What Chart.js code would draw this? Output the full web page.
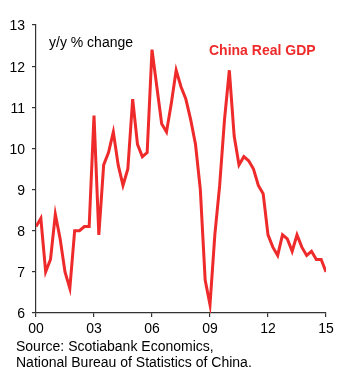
<!DOCTYPE html>
<html>
<head>
<meta charset="utf-8">
<script src="https://cdn.jsdelivr.net/npm/chart.js@4.4.1/dist/chart.umd.min.js"></script>
<style>
  html, body { margin: 0; padding: 0; background: #fff; }
  #wrap { position: relative; width: 356px; height: 379px; }
  canvas { display: block; }
</style>
</head>
<body>
<div id="wrap"><canvas id="c" width="356" height="379"></canvas></div>
<script>
// Quarterly China real GDP, y/y % change, 2000Q1 .. 2015Q1
const quarterIndex = [];
const gdpGrowth = [
  8.1, 8.3, 7.0, 7.3,   // 2000
  8.4, 7.8, 7.0, 6.6,   // 2001
  8.0, 8.0, 8.1, 8.1,   // 2002
  10.8, 7.9, 9.6, 9.9,  // 2003
  10.4, 9.6, 9.1, 9.5,  // 2004
  11.2, 10.1, 9.8, 9.9, // 2005
  12.4, 11.5, 10.6, 10.4, // 2006
  11.1, 11.9, 11.5, 11.2, // 2007
  10.7, 10.1, 9.0, 6.8, // 2008
  6.2, 7.9, 9.1, 10.7,  // 2009
  11.9, 10.3, 9.6, 9.8, // 2010
  9.7, 9.5, 9.1, 8.9,   // 2011
  7.9, 7.6, 7.4, 7.9,   // 2012
  7.8, 7.5, 7.9, 7.6,   // 2013
  7.4, 7.5, 7.3, 7.3,   // 2014
  7.0                   // 2015
];
for (let i = 0; i < gdpGrowth.length; i++) quarterIndex.push(i);
const xTickLabels = ['00', '03', '06', '09', '12', '15'];
const yTickMin = 6, yTickMax = 13;
const seriesLabel = 'China Real GDP';
const unitLabel = 'y/y % change';
const sourceLines = ['Source: Scotiabank Economics,', 'National Bureau of Statistics of China.'];

const FONT = '"Liberation Sans", Arial, sans-serif';
const RED = '#ee2a2a';

const textPlugin = {
  id: 'texts',
  afterDraw(chart) {
    const ctx = chart.ctx;
    ctx.save();
    ctx.textBaseline = 'alphabetic';
    ctx.textAlign = 'left';
    ctx.fillStyle = '#000';
    ctx.font = '14px ' + FONT;
    ctx.fillText(unitLabel, 49, 47);
    ctx.fillStyle = RED;
    ctx.font = 'bold 14px ' + FONT;
    ctx.fillText(seriesLabel, 209, 55);
    ctx.fillStyle = '#000';
    ctx.font = '14px ' + FONT;
    ctx.fillText(sourceLines[0], 16, 351);
    ctx.fillText(sourceLines[1], 16, 367);
    ctx.restore();
  }
};

new Chart(document.getElementById('c'), {
  type: 'line',
  data: {
    datasets: [{
      label: seriesLabel,
      data: quarterIndex.map((q, i) => ({ x: q, y: gdpGrowth[i] })),
      borderColor: RED,
      borderWidth: 3,
      pointRadius: 0,
      tension: 0,
      fill: false
    }]
  },
  options: {
    responsive: false,
    animation: false,
    devicePixelRatio: 1,
    layout: { padding: { left: 0, right: 30, top: 25, bottom: 36 } },
    plugins: { legend: { display: false }, tooltip: { enabled: false } },
    scales: {
      x: {
        type: 'linear',
        min: 0,
        max: quarterIndex.length - 1,
        offset: false,
        afterFit(s) { s.height = 30; },
        afterBuildTicks(s) {
          s.ticks = xTickLabels.map((_, i) => ({ value: i * 12 }));
        },
        ticks: {
          autoSkip: false,
          maxRotation: 0,
          padding: 4,
          color: '#000',
          font: { family: FONT, size: 14 },
          callback: (v) => xTickLabels[Math.round(v / 12)]
        },
        grid: { display: true, drawOnChartArea: false, drawTicks: true, tickLength: 4, color: '#333', lineWidth: 1.2 },
        border: { display: true, color: '#333', width: 1.2 }
      },
      y: {
        min: yTickMin,
        max: yTickMax,
        afterFit(s) { s.width = 36; },
        ticks: {
          stepSize: 1,
          padding: 7,
          labelOffset: 1.5,
          color: '#000',
          font: { family: FONT, size: 14 }
        },
        grid: { display: true, drawOnChartArea: false, drawTicks: true, tickLength: 4, color: '#333', lineWidth: 1.2 },
        border: { display: true, color: '#333', width: 1.2 }
      }
    }
  },
  plugins: [textPlugin]
});
</script>
</body>
</html>
